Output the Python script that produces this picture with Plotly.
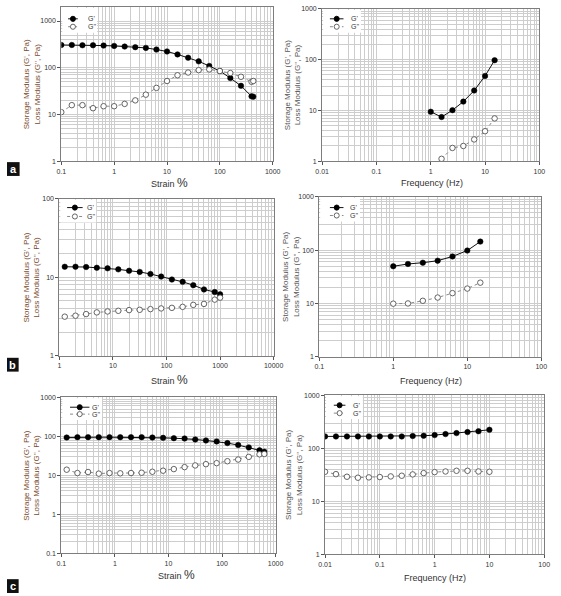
import numpy as np
import plotly.graph_objects as go

W, H = 561, 596

# ---------------- data ----------------
# Panel a - strain sweep
a_strain = [0.1, 0.158, 0.251, 0.398, 0.631, 1.0, 1.58, 2.51, 3.98, 6.31, 10.0,
            15.8, 25.1, 39.8, 63.1, 100, 158, 251, 398, 430]
a_strain_Gp = [307, 307, 303, 303, 298, 293, 284, 275, 266, 245, 223,
               193, 164, 137, 109, 85, 60, 41, 24.4, 24.0]
a_strain_Gpp = [11.2, 15.8, 15.8, 13.6, 15.0, 15.0, 16.8, 20.0, 26.5, 37.0, 52.0,
                69.0, 79.0, 89.0, 92.0, 85.0, 77.0, 64.0, 50.0, 52.0]
# Panel a - frequency sweep
a_freq = [1.0, 1.58, 2.51, 3.98, 6.31, 10.0, 15.0]
a_freq_Gp = [9.4, 7.4, 10.1, 14.9, 24.7, 47.7, 97.6]
a_freq2 = [1.58, 2.51, 3.98, 6.31, 10.0, 15.0]
a_freq_Gpp = [1.11, 1.82, 1.99, 2.68, 3.89, 6.96]

# Panel b - strain sweep
b_strain = [1.26, 2.0, 3.16, 5.0, 7.94, 12.6, 20.0, 31.6, 50.1, 79.4, 126,
            200, 316, 501, 794, 1000]
b_strain_Gp = [13.6, 13.6, 13.5, 13.2, 13.0, 12.6, 12.1, 11.7, 11.0, 10.2, 9.35,
               8.74, 7.94, 7.0, 6.48, 6.06]
b_strain_Gpp = [3.15, 3.24, 3.40, 3.57, 3.67, 3.74, 3.82, 3.85, 3.93, 4.01, 4.08,
                4.20, 4.45, 4.58, 5.19, 5.50]
# Panel b - frequency sweep
b_freq = [1.0, 1.58, 2.51, 3.98, 6.31, 10.0, 15.0]
b_freq_Gp = [49.7, 54.9, 58.0, 63.2, 76.0, 98.0, 144.0]
b_freq_Gpp = [9.9, 10.0, 11.2, 12.9, 15.6, 19.0, 24.5]

# Panel c - strain sweep
c_strain = [0.126, 0.2, 0.316, 0.501, 0.794, 1.26, 2.0, 3.16, 5.01, 7.94, 12.6,
            20.0, 31.6, 50.1, 79.4, 126, 200, 316, 501, 615]
c_strain_Gp = [93.5, 95.3, 95.3, 95.3, 95.3, 95.3, 95.3, 95.3, 93.5, 91.6, 89.9,
               88.2, 83.2, 78.5, 74.0, 67.2, 59.8, 52.2, 43.8, 40.6]
c_strain_Gpp = [14.0, 11.5, 12.2, 11.1, 11.5, 11.3, 11.5, 11.7, 12.4, 13.2, 14.5,
                16.3, 18.0, 19.4, 20.6, 23.1, 25.5, 29.8, 34.7, 35.4]
# Panel c - frequency sweep
c_freq = [0.01, 0.0158, 0.0251, 0.0398, 0.0631, 0.1, 0.158, 0.251, 0.398, 0.631,
          1.0, 1.58, 2.51, 3.98, 6.31, 10.0]
c_freq_Gp = [168, 168, 168, 168, 168, 168, 168, 168, 171, 173,
             178, 186, 194, 203, 211, 224]
c_freq_Gpp = [36.2, 32.7, 29.2, 28.0, 28.4, 28.8, 29.6, 30.5, 32.3, 34.2,
              35.7, 36.7, 37.8, 37.8, 36.7, 36.2]

# tick labels
ticks_01_1000 = ["0.1", "1", "10", "100", "1000"]
ticks_001_100 = ["0.01", "0.1", "1", "10", "100"]
ticks_1_10000 = ["1", "10", "100", "1000", "10000"]
ticks_01_100 = ["0.1", "1", "10", "100"]
yticks_1_1000 = ["1", "10", "100", "1000"]
yticks_1_100 = ["1", "10", "100"]
yticks_01_1000 = ["0.1", "1", "10", "100", "1000"]

series_names = ["G'", "G''"]
strain_title = "Strain <span style='font-size:12px'>%</span>"
freq_title = "Frequency (Hz)"
ytitle = "Storage Modulus (G', Pa)<br>Loss Modulus (G'', Pa)"
panel_letters = ["a", "b", "c"]

# ---------------- layout helpers ----------------
def px_x(v):
    return v / W

def px_y(v):
    return 1 - v / H

def minor_vals(lo, hi):
    out = []
    for k in range(int(np.floor(lo)), int(np.ceil(hi)) + 1):
        for d in range(2, 10):
            v = d * 10.0 ** k
            if lo <= np.log10(v) <= hi + 1e-9:
                out.append(v)
    return out

panels = [
    dict(x1=a_strain, y1=a_strain_Gp, x2=a_strain, y2=a_strain_Gpp,
         xr=[-1, 3], yr=[0, np.log10(2000)], box=(56, 274, 3, 159),
         xt=ticks_01_1000, yt=yticks_1_1000, xtitle=strain_title, xty=181, xtx=168,
         ytx=25, ytcol="#7a4a2e", leg=(7, 12, 25, 12, 8)),
    dict(x1=a_freq, y1=a_freq_Gp, x2=a_freq2, y2=a_freq_Gpp,
         xr=[-2, 2], yr=[0, 3], box=(325, 549, 5, 159),
         xt=ticks_001_100, yt=yticks_1_1000, xtitle=freq_title, xty=181, xtx=438,
         ytx=294, ytcol="#555555", leg=(8, 15, 28, 10, 8)),
    dict(x1=b_strain, y1=b_strain_Gp, x2=b_strain, y2=b_strain_Gpp,
         xr=[0, 4], yr=[0, 2], box=(54, 275, 197, 356),
         xt=ticks_1_10000, yt=yticks_1_100, xtitle=strain_title, xty=380, xtx=168,
         ytx=25, ytcol="#7a4a2e", leg=(8, 16, 26, 9, 9)),
    dict(x1=b_freq, y1=b_freq_Gp, x2=b_freq, y2=b_freq_Gpp,
         xr=[-1, 2], yr=[0, 3], box=(322, 551, 195, 357),
         xt=ticks_01_100, yt=yticks_1_1000, xtitle=freq_title, xty=381, xtx=437,
         ytx=293, ytcol="#555555", leg=(11, 18, 30, 11, 8)),
    dict(x1=c_strain, y1=c_strain_Gp, x2=c_strain, y2=c_strain_Gpp,
         xr=[-1, 3], yr=[-1, 3], box=(56, 277, 398, 556),
         xt=ticks_01_1000, yt=yticks_01_1000, xtitle=strain_title, xty=578, xtx=175,
         ytx=25, ytcol="#7a4a2e", leg=(9, 19, 30, 10, 7)),
    dict(x1=c_freq, y1=c_freq_Gp, x2=c_freq, y2=c_freq_Gpp,
         xr=[-2, 2], yr=[0, 3], box=(328, 554, 396, 557),
         xt=ticks_001_100, yt=yticks_1_1000, xtitle=freq_title, xty=581, xtx=441,
         ytx=296, ytcol="#555555", leg=(9, 15, 27, 10, 8)),
]

FONT = "Liberation Sans, Arial, sans-serif"
GRID = "#cdcdcd"
GP_STYLE = dict(line=dict(color="#111111", width=1),
                marker=dict(symbol="circle", size=5.5, color="#000000",
                            line=dict(color="#000000", width=0.5)))
GPP_STYLE = dict(line=dict(color="#8a8a8a", width=1, dash="dot"),
                 marker=dict(symbol="circle", size=5.5, color="#ffffff",
                             line=dict(color="#555555", width=0.9)))

fig = go.Figure()
annotations = []
shapes = []
layout = {}

for i, p in enumerate(panels):
    n = "" if i == 0 else str(i + 1)
    xa, ya = "x" + n, "y" + n
    l, r, t, b = p["box"]

    fig.add_trace(go.Scatter(
        x=p["x1"], y=p["y1"], xaxis=xa, yaxis=ya, name=series_names[0],
        mode="lines+markers", showlegend=False, **GP_STYLE))
    fig.add_trace(go.Scatter(
        x=p["x2"], y=p["y2"], xaxis=xa, yaxis=ya, name=series_names[1],
        mode="lines+markers", showlegend=False, **GPP_STYLE))

    xvals = [10.0 ** k for k in range(p["xr"][0], p["xr"][1] + 1)]
    yvals = [10.0 ** k for k in range(int(round(p["yr"][0])),
                                      int(np.floor(p["yr"][1] + 1e-9)) + 1)]

    common = dict(type="log", showline=True, linecolor="#7d7d7d", linewidth=1,
                  mirror=True, showgrid=True, gridcolor=GRID, gridwidth=1,
                  ticks="outside", ticklen=3, tickcolor="#555555", tickwidth=1,
                  tickfont=dict(size=7, color="#333333", family=FONT),
                  zeroline=False)
    layout["xaxis" + n] = dict(
        common, domain=[px_x(l), px_x(r)], range=p["xr"], anchor=ya,
        tickmode="array", tickvals=xvals, ticktext=p["xt"],
        minor=dict(tickmode="array", tickvals=minor_vals(p["xr"][0], p["xr"][1]),
                   showgrid=True, gridcolor=GRID, gridwidth=1, ticks=""))
    layout["yaxis" + n] = dict(
        common, domain=[px_y(b), px_y(t)], range=p["yr"], anchor=xa,
        tickmode="array", tickvals=yvals, ticktext=p["yt"],
        minor=dict(tickmode="array", tickvals=minor_vals(p["yr"][0], p["yr"][1]),
                   showgrid=True, gridcolor=GRID, gridwidth=1, ticks=""))

    # legend (drawn as layout decorations)
    lx0, mx, tx, ry, rs = p["leg"]
    shapes.append(dict(type="rect", xref="paper", yref="paper",
                       x0=px_x(l + 1), x1=px_x(l + tx + 12),
                       y0=px_y(t + ry + rs + 6), y1=px_y(t + 1),
                       fillcolor="white", line=dict(width=0), layer="above"))
    for k, (nm, st) in enumerate([(series_names[0], GP_STYLE), (series_names[1], GPP_STYLE)]):
        yy = t + ry + k * rs
        lx1 = 2 * mx - lx0
        shapes.append(dict(type="line", xref="paper", yref="paper",
                           x0=px_x(l + lx0), x1=px_x(l + lx1), y0=px_y(yy), y1=px_y(yy),
                           line=dict(color=st["line"]["color"], width=1,
                                     dash=st["line"].get("dash", "solid")),
                           layer="above"))
        shapes.append(dict(type="circle", xref="paper", yref="paper",
                           x0=px_x(l + mx - 2.6), x1=px_x(l + mx + 2.6),
                           y0=px_y(yy + 2.6), y1=px_y(yy - 2.6),
                           fillcolor=st["marker"]["color"],
                           line=dict(color=st["marker"]["line"]["color"], width=0.9),
                           layer="above"))
        annotations.append(dict(
            text=nm, x=px_x(l + tx), y=px_y(yy), xref="paper", yref="paper",
            showarrow=False, xanchor="left", yanchor="middle",
            font=dict(size=7, color="#333333", family=FONT)))

    annotations.append(dict(
        text=p["xtitle"], x=px_x(p["xtx"]), y=px_y(p["xty"]), xref="paper", yref="paper",
        showarrow=False, xanchor="center", yanchor="middle",
        font=dict(size=9, color="#333333", family=FONT)))
    annotations.append(dict(
        text=ytitle, x=px_x(p["ytx"]), y=px_y((t + b) / 2), xref="paper", yref="paper",
        showarrow=False, xanchor="center", yanchor="middle", textangle=-90,
        font=dict(size=8, color=p["ytcol"], family=FONT)))

# panel letter tags: black boxes with white letters
letter_boxes = [(0, 13, 160, 174), (0, 12, 358, 372), (0, 12, 582, 596)]
for letter, (x0, x1, y0, y1) in zip(panel_letters, letter_boxes):
    shapes.append(dict(type="rect", xref="paper", yref="paper",
                       x0=px_x(x0), x1=px_x(x1), y0=px_y(y1), y1=px_y(y0),
                       fillcolor="#111111", line=dict(width=0)))
    annotations.append(dict(
        text="<b>" + letter + "</b>", x=px_x((x0 + x1) / 2), y=px_y((y0 + y1) / 2),
        xref="paper", yref="paper", showarrow=False,
        xanchor="center", yanchor="middle",
        font=dict(size=11, color="#ffffff", family=FONT)))

fig.update_layout(
    width=W, height=H, margin=dict(l=0, r=0, t=0, b=0),
    paper_bgcolor="white", plot_bgcolor="white",
    font=dict(family=FONT, size=8, color="#333333"),
    annotations=annotations, shapes=shapes, **layout)

fig.write_html("out.html", post_script="document.body.style.margin='0px';",
               config={"displayModeBar": False})
